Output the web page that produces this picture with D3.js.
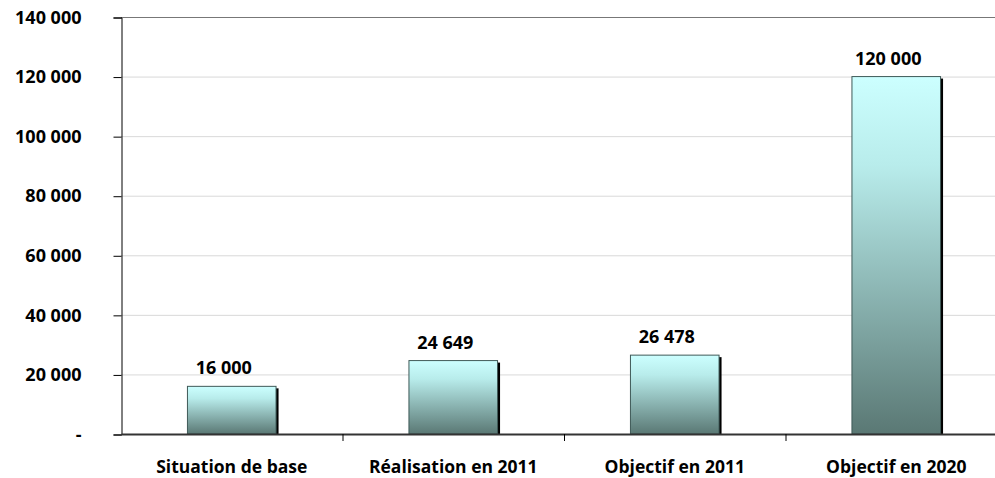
<!DOCTYPE html>
<html>
<head>
<meta charset="utf-8">
<script src="https://cdn.jsdelivr.net/npm/d3@7"></script>
<style>
  body { margin: 0; background: #fff; }
  svg text { font-family: "Open Sans", "Liberation Sans", sans-serif; font-weight: bold; fill: #000; }
</style>
</head>
<body>
<svg id="chart" width="995" height="478"></svg>
<script>
// data
var categories = ["Situation de base", "Réalisation en 2011", "Objectif en 2011", "Objectif en 2020"];
var values = [16000, 24649, 26478, 120000];
var yTicks = [0, 20000, 40000, 60000, 80000, 100000, 120000, 140000];

var svg = d3.select('#chart');
var plotLeft = 121, plotRight = 1007, plotTop = 17, plotBottom = 434;

var x = d3.scaleBand().domain(categories).range([plotLeft, plotRight]).padding(0);
var y = d3.scaleLinear().domain([0, 140000]).range([plotBottom, plotTop]);

// french style number: space as thousands separator, "-" for zero
function fmt(v) {
    if (v === 0) return '-';
    return d3.format(',')(v).replace(/,/g, ' ');
}

// gradient for the bars
var defs = svg.append('defs');
var grad = defs.append('linearGradient').attr('id', 'barGrad')
    .attr('x1', 0).attr('y1', 0).attr('x2', 0).attr('y2', 1);
grad.append('stop').attr('offset', '0%').attr('stop-color', '#ccffff');
grad.append('stop').attr('offset', '25%').attr('stop-color', '#b8eceb');
grad.append('stop').attr('offset', '100%').attr('stop-color', '#5a7874');

// gridlines
svg.append('g').selectAll('line').data(yTicks.filter(function(d) { return d > 0; }))
    .enter().append('line')
    .attr('x1', plotLeft).attr('x2', 995)
    .attr('y1', function(d) { return y(d) + 0.5; })
    .attr('y2', function(d) { return y(d) + 0.5; })
    .attr('stroke', function(d) { return d === 140000 ? '#777' : '#d9d9d9'; })
    .attr('stroke-width', 1);

// y axis
var yAxis = d3.axisLeft(y).tickValues(yTicks).tickSize(8).tickPadding(32).tickFormat(fmt);
var gy = svg.append('g').attr('transform', 'translate(' + (plotLeft + 0.5) + ',0.5)').call(yAxis);
gy.select('.domain').attr('stroke', '#000');
gy.selectAll('.tick line').attr('stroke', '#000');
gy.selectAll('.tick text').attr('font-size', 18).attr('fill', '#000')
    .attr('font-family', '"Open Sans", sans-serif').attr('font-weight', 'bold');

// bars
var bw = x.bandwidth() * 0.4;
var bars = svg.append('g').selectAll('g').data(values).enter().append('g');
// shadow on the right
bars.append('rect')
    .attr('x', function(d, i) { return x(categories[i]) + (x.bandwidth() - bw) / 2 + 2.5; })
    .attr('y', function(d) { return y(d) + 2; })
    .attr('width', bw)
    .attr('height', function(d) { return plotBottom - y(d) - 2; })
    .attr('fill', '#000');
bars.append('rect')
    .attr('x', function(d, i) { return x(categories[i]) + (x.bandwidth() - bw) / 2; })
    .attr('y', function(d) { return y(d); })
    .attr('width', bw)
    .attr('height', function(d) { return plotBottom - y(d); })
    .attr('fill', 'url(#barGrad)')
    .attr('stroke', '#3f5a58')
    .attr('stroke-width', 1);

// value labels
bars.append('text')
    .attr('x', function(d, i) { return x(categories[i]) + x.bandwidth() / 2 - 8; })
    .attr('y', function(d) { return y(d) - 12; })
    .attr('text-anchor', 'middle')
    .attr('font-size', 18)
    .text(fmt);

// x axis
var xAxis = d3.axisBottom(x).tickSize(0).tickPadding(27);
var gx = svg.append('g').attr('transform', 'translate(0,' + plotBottom + ')').call(xAxis);
gx.select('.domain').attr('stroke', '#333').attr('stroke-width', 2);
gx.selectAll('.tick text').attr('font-size', 17.5).attr('fill', '#000')
    .attr('font-family', '"Open Sans", sans-serif').attr('font-weight', 'bold');
// boundary ticks between categories
gx.append('g').selectAll('line').data(categories.slice(1)).enter().append('line')
    .attr('x1', function(d) { return x(d) + 0.5; })
    .attr('x2', function(d) { return x(d) + 0.5; })
    .attr('y1', 0).attr('y2', 7)
    .attr('stroke', '#000');
</script>
</body>
</html>
